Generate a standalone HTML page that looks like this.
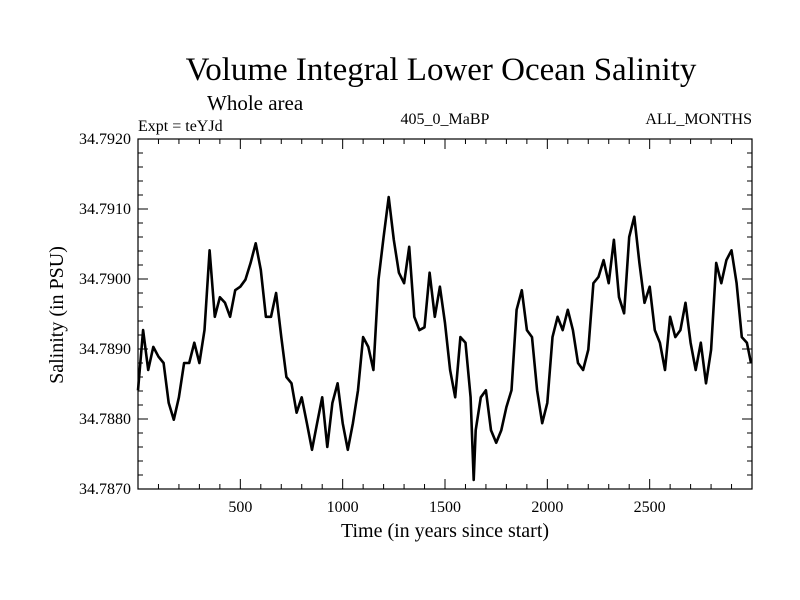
<!DOCTYPE html>
<html><head><meta charset="utf-8"><style>
body{margin:0;background:#fff}
svg{display:block;font-family:"Liberation Serif",serif}
</style></head><body>
<svg id="chart" width="800" height="600" viewBox="0 0 800 600">
<rect width="800" height="600" fill="#fff"/>
<text x="441" y="80" font-size="33" text-anchor="middle">Volume Integral Lower Ocean Salinity</text>
<text x="207" y="110" font-size="21">Whole area</text>
<text x="138" y="131" font-size="16">Expt = teYJd</text>
<text x="445" y="124" font-size="16" text-anchor="middle">405_0_MaBP</text>
<text x="752" y="124" font-size="16" text-anchor="end">ALL_MONTHS</text>
<text transform="translate(63,315) rotate(-90)" font-size="20" text-anchor="middle">Salinity (in PSU)</text>
<text x="445" y="537" font-size="20" text-anchor="middle">Time (in years since start)</text>
<g id="axes"></g>
<g id="marks"></g>
</svg>
<script>
const years=[0,25,50,75,100,125,150,175,200,225,250,275,300,325,350,375,400,425,450,475,500,525,550,575,600,625,650,675,700,725,750,775,800,825,850,875,900,925,950,975,1000,1025,1050,1075,1100,1125,1150,1175,1200,1225,1250,1275,1300,1325,1350,1375,1400,1425,1450,1475,1500,1525,1550,1575,1600,1625,1640,1650,1675,1700,1725,1750,1775,1800,1825,1850,1875,1900,1925,1950,1975,2000,2025,2050,2075,2100,2125,2150,2175,2200,2225,2250,2275,2300,2325,2350,2375,2400,2425,2450,2475,2500,2525,2550,2575,2600,2625,2650,2675,2700,2725,2750,2775,2800,2825,2850,2875,2900,2925,2950,2975,2995];
const salinity=[34.78841,34.78927,34.78870,34.78903,34.78889,34.78880,34.78823,34.78799,34.78831,34.78880,34.78880,34.78909,34.78880,34.78927,34.79041,34.78946,34.78974,34.78966,34.78946,34.78984,34.78989,34.78999,34.79023,34.79051,34.79013,34.78946,34.78946,34.78980,34.78917,34.78860,34.78851,34.78809,34.78831,34.78794,34.78756,34.78794,34.78831,34.78760,34.78823,34.78851,34.78794,
34.78756,34.78794,34.78841,34.78917,34.78903,34.78870,34.78999,34.79060,34.79117,34.79056,34.79009,34.78994,34.79046,34.78946,34.78927,34.78931,34.79009,34.78946,34.78989,34.78937,34.78870,34.78831,34.78917,34.78909,34.78831,34.78713,34.78784,34.78831,34.78841,34.78784,34.78766,34.78784,34.78817,34.78841,34.78956,34.78984,34.78927,34.78917,34.78841,34.78794,34.78823,
34.78917,34.78946,34.78927,34.78956,34.78927,34.78880,34.78870,34.78899,34.78994,34.79003,34.79027,34.78994,34.79056,34.78974,34.78951,34.79060,34.79089,34.79023,34.78966,34.78989,34.78927,34.78909,34.78870,34.78946,34.78917,34.78927,34.78966,34.78909,34.78870,34.78909,34.78851,34.78899,34.79023,34.78994,34.79027,34.79041,34.78994,34.78917,34.78909,34.78880];
const xTicks=[500,1000,1500,2000,2500];
const yTicks=[34.7870,34.7880,34.7890,34.7900,34.7910,34.7920];
const yTickLabels=["34.7870","34.7880","34.7890","34.7900","34.7910","34.7920"];
const X0=138,X1=752,Y0=139,Y1=489,XMIN=0,XMAX=3000,YMIN=34.787,YMAX=34.792;
const sx=v=>X0+(v-XMIN)/(XMAX-XMIN)*(X1-X0);
const sy=v=>Y1-(v-YMIN)/(YMAX-YMIN)*(Y1-Y0);
const NS="http://www.w3.org/2000/svg";
const axes=document.getElementById('axes'),marks=document.getElementById('marks');
function mk(tag,attrs,parent){const e=document.createElementNS(NS,tag);for(const k in attrs)e.setAttribute(k,attrs[k]);parent.appendChild(e);return e;}
const frame=mk('rect',{x:X0,y:Y0,width:X1-X0,height:Y1-Y0,fill:'none',stroke:'#000','stroke-width':1.2},axes);


let d='';
for(let v=100;v<XMAX;v+=100){const x=sx(v),L=(v%500===0)?10:5;d+=`M${x} ${Y1}v${-L}M${x} ${Y0}v${L}`;}
for(let i=1;i<25;i++){const v=YMIN+i*0.0002,y=sy(v),L=(i%5===0)?10:5;d+=`M${X0} ${y}h${L}M${X1} ${y}h${-L}`;}
const tk=mk('path',{d:d,stroke:'#000','stroke-width':1,fill:'none'},axes);


xTicks.forEach(v=>{const t=mk('text',{x:sx(v),y:512,'font-size':16,'text-anchor':'middle'},axes);t.textContent=v;

});
yTicks.forEach((v,i)=>{const t=mk('text',{x:131,y:sy(v)+5,'font-size':16,'text-anchor':'end'},axes);t.textContent=yTickLabels[i];

});
const pts=years.map((y,i)=>sx(y).toFixed(1)+','+sy(salinity[i]).toFixed(1)).join(' ');
const line=mk('polyline',{points:pts,fill:'none',stroke:'#000','stroke-width':2.6,'stroke-linejoin':'round'},marks);


</script>
</body></html>
